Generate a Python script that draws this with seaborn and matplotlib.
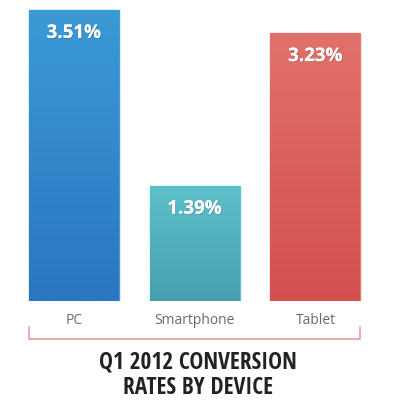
import numpy as np
import pandas as pd
import matplotlib
matplotlib.use("Agg")
import matplotlib.pyplot as plt
import matplotlib.colors as mcolors
import matplotlib.transforms as mtransforms
import matplotlib.patheffects as pe
import seaborn as sns

devices = ["PC", "Smartphone", "Tablet"]
rates = [3.51, 1.39, 3.23]
labels = ["3.51%", "1.39%", "3.23%"]
top_colors = ["#3C9AD6", "#5CC0CA", "#E1716C"]
bottom_colors = ["#2A76C0", "#48A0AE", "#D3504E"]
title = "Q1 2012 CONVERSION\nRATES BY DEVICE"

df = pd.DataFrame({"device": devices, "rate": rates})

sns.set_theme(style="white")
plt.rcParams["font.family"] = ["Open Sans", "DejaVu Sans"]

fig = plt.figure(figsize=(3.96, 4.0), dpi=100)
ax = fig.add_axes([0, 0.2475, 1, 0.7525])

sns.barplot(data=df, x="device", y="rate", hue="device", palette=bottom_colors,
            width=0.745, legend=False, ax=ax, saturation=1)

xlim = (-0.613, 2.667)
ylim = (0, 3.63)

# vertical gradient fill clipped to each bar
for patch, c_top, c_bot in zip(ax.patches, top_colors, bottom_colors):
    x0, y0 = patch.get_x(), patch.get_y()
    w, h = patch.get_width(), patch.get_height()
    cmap = mcolors.LinearSegmentedColormap.from_list("g", [c_bot, c_top])
    grad = np.linspace(0, 1, 256).reshape(-1, 1)
    im = ax.imshow(grad, cmap=cmap, origin="lower", aspect="auto",
                   extent=(x0, x0 + w, y0, y0 + h), zorder=patch.get_zorder() + 0.1)
    im.set_clip_path(patch)
    patch.set_edgecolor(mcolors.to_rgba(c_top, 0.9))
    patch.set_linewidth(1.0)

for i, (val, lab) in enumerate(zip(rates, labels)):
    ax.annotate(lab, xy=(i, val), xytext=(0, -16.5), textcoords="offset points",
                ha="center", va="center", color="white", fontsize=13.5,
                fontweight="bold", zorder=5,
                path_effects=[pe.withSimplePatchShadow(offset=(0.6, -0.6),
                                                       shadow_rgbFace="#333333", alpha=0.25),
                              pe.Normal()])

ax.set_xlim(*xlim)
ax.set_ylim(*ylim)
ax.set_xlabel("")
ax.set_ylabel("")
ax.set_yticks([])
ax.tick_params(axis="x", length=0, pad=9, labelsize=10, labelcolor="#6a6a6a")
sns.despine(ax=ax, left=True, bottom=True)

# bracket under the category labels
left = ax.patches[0].get_x()
right = ax.patches[-1].get_x() + ax.patches[-1].get_width()
trans = mtransforms.blended_transform_factory(ax.transData, ax.transAxes)
ax.plot([left, left, right, right], [-0.087, -0.127, -0.127, -0.087],
        color="#E8A6A6", lw=1.3, transform=trans, clip_on=False)

fig.text(0.5, 0.0615, title, ha="center", va="center", fontsize=16.8,
         fontweight="bold", color="#222222", linespacing=1.06,
         family=["Open Sans Condensed", "Fira Sans Condensed", "Roboto Condensed",
                 "Liberation Sans Narrow", "DejaVu Sans"])

fig.savefig("out.png", dpi=100)
